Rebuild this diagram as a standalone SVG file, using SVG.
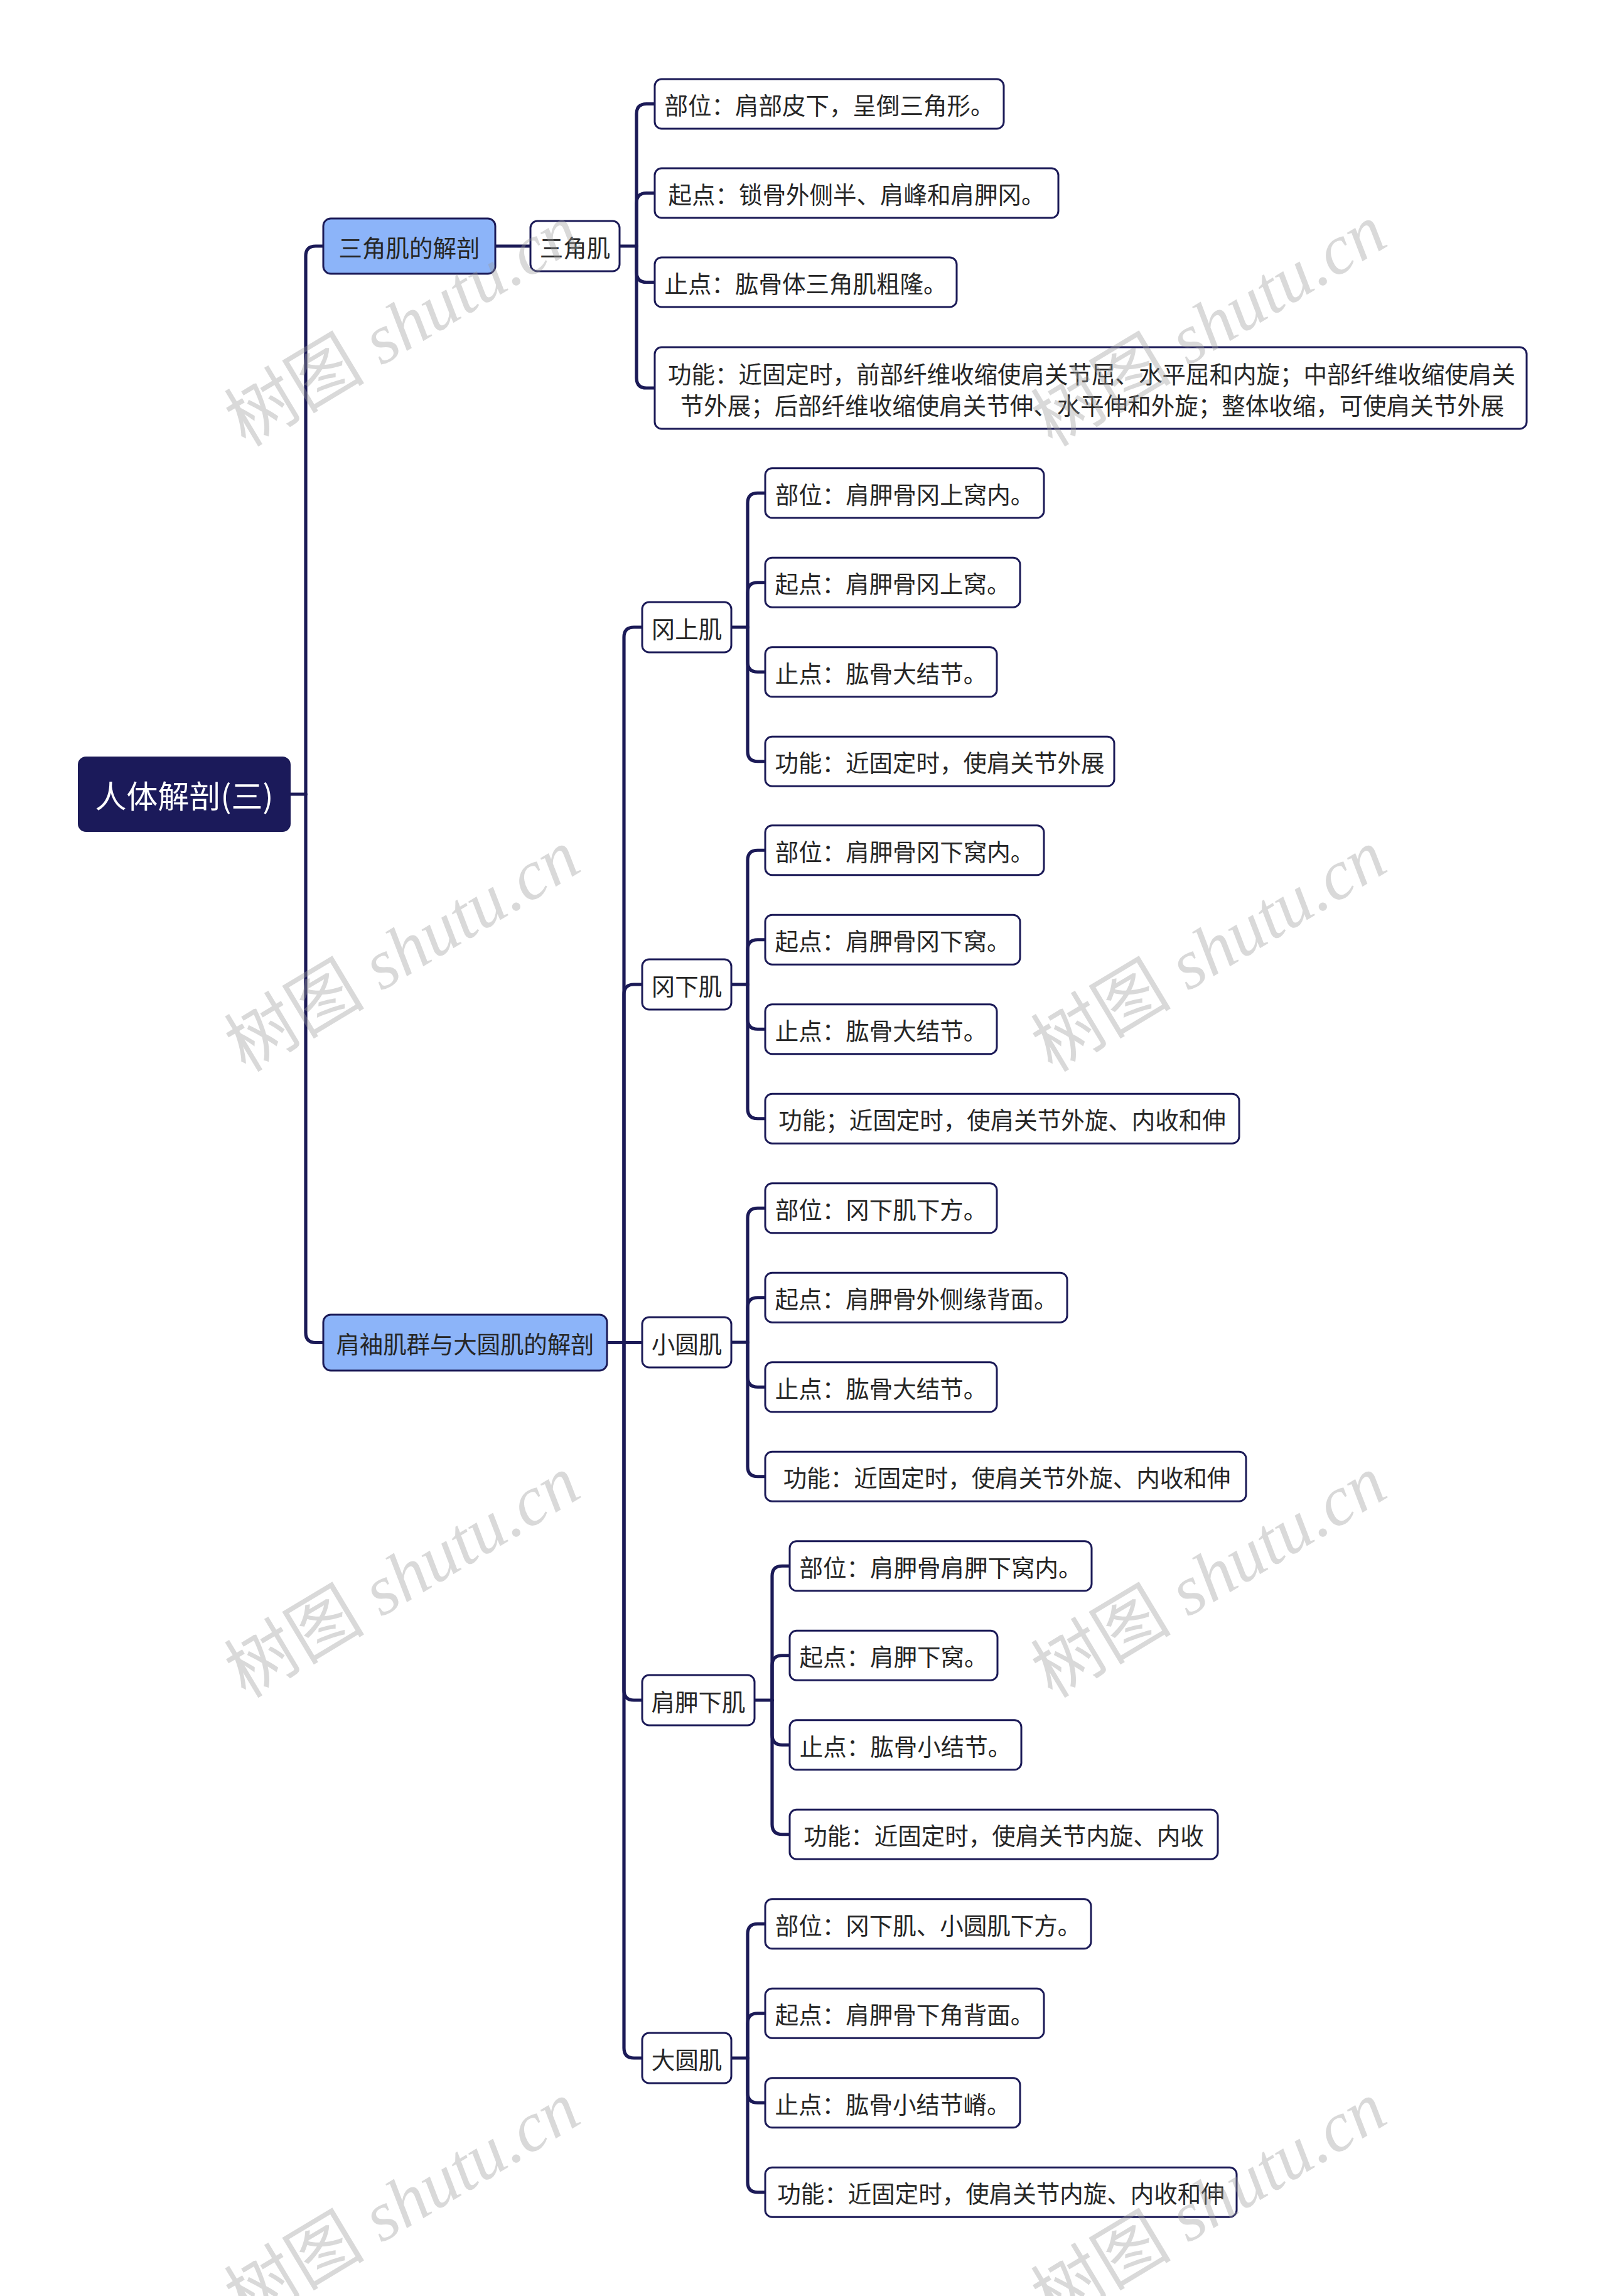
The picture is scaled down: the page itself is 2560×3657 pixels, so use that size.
<svg xmlns="http://www.w3.org/2000/svg" width="2560" height="3657" viewBox="0 0 2560 3657">
<style>
.t{font-family:"Noto Sans CJK SC","Noto Sans",sans-serif;font-size:37.5px;fill:#262626;text-anchor:middle;dominant-baseline:central}
.leaf{fill:#ffffff;stroke:#1b1a57;stroke-width:3}
.l1{fill:#8cb4f9;stroke:#1b1a57;stroke-width:3}
.root{fill:#1b1a5a;stroke:#1b1a57;stroke-width:2}
.c{fill:none;stroke:#1b1a57;stroke-width:5.2;stroke-linecap:round;stroke-linejoin:round}
.wm{font-family:"Liberation Serif","Noto Sans CJK SC",serif;font-size:112px;fill:#9a9a9a;fill-opacity:0.38;text-anchor:middle}
</style>
<rect width="2560" height="3657" fill="#ffffff"/>

<g id="connectors">
<path class="c" d="M462,1265 H487"/>
<path class="c" d="M487,1265 V408 Q487,392 503,392 H515"/>
<path class="c" d="M487,1265 V2122.5 Q487,2138.5 503,2138.5 H515"/>
<path class="c" d="M789,392 H845"/>
<path class="c" d="M987,392 H1014"/>
<path class="c" d="M1014,392 V181.5 Q1014,165.5 1030,165.5 H1043"/>
<path class="c" d="M1014,392 V323.5 Q1014,307.5 1030,307.5 H1043"/>
<path class="c" d="M1014,392 V433.5 Q1014,449.5 1030,449.5 H1043"/>
<path class="c" d="M1014,392 V602 Q1014,618 1030,618 H1043"/>
<path class="c" d="M967,2138.5 H1023"/>
<path class="c" d="M994,2138.5 V1015 Q994,999 1010,999 H1023"/>
<path class="c" d="M994,2138.5 V1584 Q994,1568 1010,1568 H1023"/>
<path class="c" d="M994,2138.5 V2692 Q994,2708 1010,2708 H1023"/>
<path class="c" d="M994,2138.5 V3262 Q994,3278 1010,3278 H1023"/>
<path class="c" d="M1165,999 H1191"/>
<path class="c" d="M1191,999 V801.25 Q1191,785.25 1207,785.25 H1219"/>
<path class="c" d="M1191,999 V943.75 Q1191,927.75 1207,927.75 H1219"/>
<path class="c" d="M1191,999 V1054.25 Q1191,1070.25 1207,1070.25 H1219"/>
<path class="c" d="M1191,999 V1196.75 Q1191,1212.75 1207,1212.75 H1219"/>
<path class="c" d="M1165,1568 H1191"/>
<path class="c" d="M1191,1568 V1370.25 Q1191,1354.25 1207,1354.25 H1219"/>
<path class="c" d="M1191,1568 V1512.75 Q1191,1496.75 1207,1496.75 H1219"/>
<path class="c" d="M1191,1568 V1623.25 Q1191,1639.25 1207,1639.25 H1219"/>
<path class="c" d="M1191,1568 V1765.75 Q1191,1781.75 1207,1781.75 H1219"/>
<path class="c" d="M1165,2138 H1191"/>
<path class="c" d="M1191,2138 V1940.25 Q1191,1924.25 1207,1924.25 H1219"/>
<path class="c" d="M1191,2138 V2082.75 Q1191,2066.75 1207,2066.75 H1219"/>
<path class="c" d="M1191,2138 V2193.25 Q1191,2209.25 1207,2209.25 H1219"/>
<path class="c" d="M1191,2138 V2335.75 Q1191,2351.75 1207,2351.75 H1219"/>
<path class="c" d="M1202,2708 H1230"/>
<path class="c" d="M1230,2708 V2510.25 Q1230,2494.25 1246,2494.25 H1258"/>
<path class="c" d="M1230,2708 V2652.75 Q1230,2636.75 1246,2636.75 H1258"/>
<path class="c" d="M1230,2708 V2763.25 Q1230,2779.25 1246,2779.25 H1258"/>
<path class="c" d="M1230,2708 V2905.75 Q1230,2921.75 1246,2921.75 H1258"/>
<path class="c" d="M1165,3278 H1191"/>
<path class="c" d="M1191,3278 V3080.25 Q1191,3064.25 1207,3064.25 H1219"/>
<path class="c" d="M1191,3278 V3222.75 Q1191,3206.75 1207,3206.75 H1219"/>
<path class="c" d="M1191,3278 V3333.25 Q1191,3349.25 1207,3349.25 H1219"/>
<path class="c" d="M1191,3278 V3475.75 Q1191,3491.75 1207,3491.75 H1219"/>
</g>

<g id="root">
<rect class="root" x="125" y="1206" width="337" height="118" rx="12"/>
<text class="t" x="293.5" y="1265" style="font-size:50px;fill:#ffffff">人体解剖(三)</text>
</g>

<g id="n-sanjiaoji-jiepou">
<rect class="l1" x="515" y="348" width="274" height="88" rx="12"/>
<text class="t" x="652" y="392">三角肌的解剖</text>
</g>
<g id="n-jianxiu">
<rect class="l1" x="515" y="2094" width="452" height="89" rx="12"/>
<text class="t" x="741" y="2138.5" textLength="411" lengthAdjust="spacing">肩袖肌群与大圆肌的解剖</text>
</g>

<g id="n-sanjiaoji">
<rect class="leaf" x="845" y="352" width="142" height="80" rx="11"/>
<text class="t" x="916" y="392">三角肌</text>
</g>
<g id="n-sjj-1">
<rect class="leaf" x="1043" y="126" width="556" height="79" rx="11"/>
<text class="t" x="1321" y="165.5">部位：肩部皮下，呈倒三角形。</text>
</g>
<g id="n-sjj-2">
<rect class="leaf" x="1043" y="268" width="643" height="79" rx="11"/>
<text class="t" x="1364.5" y="307.5">起点：锁骨外侧半、肩峰和肩胛冈。</text>
</g>
<g id="n-sjj-3">
<rect class="leaf" x="1043" y="410" width="481" height="79" rx="11"/>
<text class="t" x="1283.5" y="449.5">止点：肱骨体三角肌粗隆。</text>
</g>
<g id="n-sjj-4">
<rect class="leaf" x="1043" y="553" width="1389" height="130" rx="11"/>
<text class="t" x="1739" y="593">功能：近固定时，前部纤维收缩使肩关节屈、水平屈和内旋；中部纤维收缩使肩关</text>
<text class="t" x="1740" y="643">节外展；后部纤维收缩使肩关节伸、水平伸和外旋；整体收缩，可使肩关节外展</text>
</g>

<g id="n-gangshangji">
<rect class="leaf" x="1023" y="959" width="142" height="80" rx="11"/>
<text class="t" x="1094" y="999">冈上肌</text>
</g>
<g id="n-gsj-1">
<rect class="leaf" x="1219" y="745.75" width="444" height="79" rx="11"/>
<text class="t" x="1441" y="785.25">部位：肩胛骨冈上窝内。</text>
</g>
<g id="n-gsj-2">
<rect class="leaf" x="1219" y="888.25" width="406" height="79" rx="11"/>
<text class="t" x="1422" y="927.75">起点：肩胛骨冈上窝。</text>
</g>
<g id="n-gsj-3">
<rect class="leaf" x="1219" y="1030.75" width="369" height="79" rx="11"/>
<text class="t" x="1403.5" y="1070.25">止点：肱骨大结节。</text>
</g>
<g id="n-gsj-4">
<rect class="leaf" x="1219" y="1173.25" width="556" height="79" rx="11"/>
<text class="t" x="1497" y="1212.75">功能：近固定时，使肩关节外展</text>
</g>

<g id="n-gangxiaji">
<rect class="leaf" x="1023" y="1528" width="142" height="80" rx="11"/>
<text class="t" x="1094" y="1568">冈下肌</text>
</g>
<g id="n-gxj-1">
<rect class="leaf" x="1219" y="1314.75" width="444" height="79" rx="11"/>
<text class="t" x="1441" y="1354.25">部位：肩胛骨冈下窝内。</text>
</g>
<g id="n-gxj-2">
<rect class="leaf" x="1219" y="1457.25" width="406" height="79" rx="11"/>
<text class="t" x="1422" y="1496.75">起点：肩胛骨冈下窝。</text>
</g>
<g id="n-gxj-3">
<rect class="leaf" x="1219" y="1599.75" width="369" height="79" rx="11"/>
<text class="t" x="1403.5" y="1639.25">止点：肱骨大结节。</text>
</g>
<g id="n-gxj-4">
<rect class="leaf" x="1219" y="1742.25" width="755" height="79" rx="11"/>
<text class="t" x="1596.5" y="1781.75">功能；近固定时，使肩关节外旋、内收和伸</text>
</g>

<g id="n-xiaoyuanji">
<rect class="leaf" x="1023" y="2098" width="142" height="80" rx="11"/>
<text class="t" x="1094" y="2138">小圆肌</text>
</g>
<g id="n-xyj-1">
<rect class="leaf" x="1219" y="1884.75" width="369" height="79" rx="11"/>
<text class="t" x="1403.5" y="1924.25">部位：冈下肌下方。</text>
</g>
<g id="n-xyj-2">
<rect class="leaf" x="1219" y="2027.25" width="481" height="79" rx="11"/>
<text class="t" x="1459.5" y="2066.75">起点：肩胛骨外侧缘背面。</text>
</g>
<g id="n-xyj-3">
<rect class="leaf" x="1219" y="2169.75" width="369" height="79" rx="11"/>
<text class="t" x="1403.5" y="2209.25">止点：肱骨大结节。</text>
</g>
<g id="n-xyj-4">
<rect class="leaf" x="1219" y="2312.25" width="766" height="79" rx="11"/>
<text class="t" x="1604" y="2351.75">功能：近固定时，使肩关节外旋、内收和伸</text>
</g>

<g id="n-jianjiaxiaji">
<rect class="leaf" x="1023" y="2668" width="179" height="80" rx="11"/>
<text class="t" x="1112.5" y="2708">肩胛下肌</text>
</g>
<g id="n-jjxj-1">
<rect class="leaf" x="1258" y="2454.75" width="481" height="79" rx="11"/>
<text class="t" x="1498.5" y="2494.25">部位：肩胛骨肩胛下窝内。</text>
</g>
<g id="n-jjxj-2">
<rect class="leaf" x="1258" y="2597.25" width="331" height="79" rx="11"/>
<text class="t" x="1423.5" y="2636.75">起点：肩胛下窝。</text>
</g>
<g id="n-jjxj-3">
<rect class="leaf" x="1258" y="2739.75" width="369" height="79" rx="11"/>
<text class="t" x="1442.5" y="2779.25">止点：肱骨小结节。</text>
</g>
<g id="n-jjxj-4">
<rect class="leaf" x="1258" y="2882.25" width="682" height="79" rx="11"/>
<text class="t" x="1599" y="2921.75">功能：近固定时，使肩关节内旋、内收</text>
</g>

<g id="n-dayuanji">
<rect class="leaf" x="1023" y="3238" width="142" height="80" rx="11"/>
<text class="t" x="1094" y="3278">大圆肌</text>
</g>
<g id="n-dyj-1">
<rect class="leaf" x="1219" y="3024.75" width="519" height="79" rx="11"/>
<text class="t" x="1478.5" y="3064.25">部位：冈下肌、小圆肌下方。</text>
</g>
<g id="n-dyj-2">
<rect class="leaf" x="1219" y="3167.25" width="444" height="79" rx="11"/>
<text class="t" x="1441" y="3206.75">起点：肩胛骨下角背面。</text>
</g>
<g id="n-dyj-3">
<rect class="leaf" x="1219" y="3309.75" width="406" height="79" rx="11"/>
<text class="t" x="1422" y="3349.25">止点：肱骨小结节嵴。</text>
</g>
<g id="n-dyj-4">
<rect class="leaf" x="1219" y="3452.25" width="751" height="79" rx="11"/>
<text class="t" x="1594.5" y="3491.75">功能：近固定时，使肩关节内旋、内收和伸</text>
</g>

<g id="watermarks">
<text class="wm" x="640" y="557" transform="rotate(-31 640 517)">树图 <tspan font-style="italic">shutu.cn</tspan></text>
<text class="wm" x="1925" y="557" transform="rotate(-31 1925 517)">树图 <tspan font-style="italic">shutu.cn</tspan></text>
<text class="wm" x="640" y="1553" transform="rotate(-31 640 1513)">树图 <tspan font-style="italic">shutu.cn</tspan></text>
<text class="wm" x="1925" y="1553" transform="rotate(-31 1925 1513)">树图 <tspan font-style="italic">shutu.cn</tspan></text>
<text class="wm" x="640" y="2550" transform="rotate(-31 640 2510)">树图 <tspan font-style="italic">shutu.cn</tspan></text>
<text class="wm" x="1925" y="2550" transform="rotate(-31 1925 2510)">树图 <tspan font-style="italic">shutu.cn</tspan></text>
<text class="wm" x="640" y="3547" transform="rotate(-31 640 3507)">树图 <tspan font-style="italic">shutu.cn</tspan></text>
<text class="wm" x="1925" y="3547" transform="rotate(-31 1925 3507)">树图 <tspan font-style="italic">shutu.cn</tspan></text>
</g>
</svg>
